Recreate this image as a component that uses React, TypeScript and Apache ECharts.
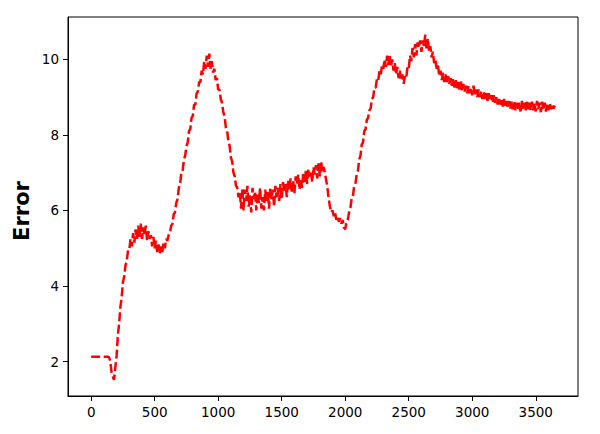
import React, { useEffect, useRef } from "react";
import * as echarts from "echarts";

// sample spacing along the x axis (iterations)
const STEP = 10;

// error values, one every STEP iterations starting at 0
const errorValues: number[] = [
  // 0
  2.13, 2.13, 2.13, 2.13, 2.13, 2.13, 2.13, 2.13, 2.13, 2.13,
  // 100
  2.13, 2.13, 2.13, 2.13, 2.12, 2.02, 1.72, 1.6, 1.52, 1.85,
  // 200
  2.15, 2.7, 3.0, 3.45, 3.7, 4.1, 4.25, 4.55, 4.65, 4.95,
  // 300
  4.95, 5.25, 5.05, 5.4, 5.15, 5.5, 5.25, 5.6, 5.3, 5.65,
  // 400
  5.25, 5.55, 5.35, 5.6, 5.2, 5.45, 5.25, 5.35, 5.05, 5.3,
  // 500
  5.0, 5.2, 4.9, 5.1, 4.85, 5.05, 4.9, 5.15, 5.0, 5.25,
  // 600
  5.2, 5.35, 5.4, 5.6, 5.65, 5.9, 5.95, 6.2, 6.3, 6.6,
  // 700
  6.7, 7.0, 7.05, 7.35, 7.45, 7.7, 7.8, 8.1, 8.15, 8.45,
  // 800
  8.5, 8.8, 8.8, 9.1, 9.15, 9.4, 9.4, 9.7, 9.6, 9.95,
  // 900
  9.75, 10.1, 9.8, 10.15, 9.75, 9.95, 9.65, 9.75, 9.45, 9.5,
  // 1000
  9.2, 9.2, 8.95, 8.85, 8.6, 8.5, 8.2, 8.1, 7.85, 7.7,
  // 1100
  7.4, 7.3, 7.0, 6.9, 6.65, 6.6, 6.35, 6.5, 6.05, 6.6,
  // 1200
  6.0, 6.55, 6.25, 6.65, 6.1, 6.4, 5.95, 6.6, 6.3, 6.5,
  // 1300
  6.0, 6.45, 6.2, 6.6, 6.05, 6.35, 6.0, 6.55, 6.25, 6.5,
  // 1400
  6.05, 6.6, 6.3, 6.55, 6.1, 6.65, 6.35, 6.6, 6.25, 6.7,
  // 1500
  6.3, 6.75, 6.5, 6.7, 6.35, 6.8, 6.55, 6.85, 6.45, 6.8,
  // 1600
  6.45, 6.9, 6.7, 6.95, 6.55, 6.85, 6.6, 7.0, 6.75, 7.05,
  // 1700
  6.7, 7.1, 6.9, 7.05, 6.75, 7.15, 6.95, 7.2, 6.85, 7.25,
  // 1800
  6.9, 7.3, 7.0, 7.15, 7.0, 6.8, 6.6, 6.3, 6.1, 5.95,
  // 1900
  6.0, 5.85, 5.95, 5.75, 5.85, 5.7, 5.8, 5.65, 5.75, 5.55,
  // 2000
  5.5, 5.7, 5.75, 5.95, 6.05, 6.3, 6.35, 6.65, 6.7, 6.95,
  // 2100
  7.05, 7.35, 7.45, 7.75, 7.8, 8.1, 8.15, 8.4, 8.45, 8.65,
  // 2200
  8.7, 8.95, 9.0, 9.25, 9.25, 9.5, 9.45, 9.7, 9.6, 9.85,
  // 2300
  9.75, 10.0, 9.8, 10.1, 9.85, 10.1, 9.8, 10.0, 9.7, 9.9,
  // 2400
  9.6, 9.8, 9.5, 9.7, 9.45, 9.6, 9.35, 9.55, 9.5, 9.8,
  // 2500
  9.75, 10.1, 9.95, 10.3, 10.05, 10.4, 10.1, 10.45, 10.3, 10.5,
  // 2600
  10.2, 10.5, 10.35, 10.65, 10.25, 10.55, 10.2, 10.35, 10.05, 10.2,
  // 2700
  9.9, 10.0, 9.75, 9.85, 9.55, 9.7, 9.45, 9.65, 9.4, 9.6,
  // 2800
  9.35, 9.55, 9.35, 9.5, 9.3, 9.5, 9.25, 9.45, 9.2, 9.4,
  // 2900
  9.2, 9.45, 9.15, 9.35, 9.15, 9.3, 9.1, 9.3, 9.1, 9.25,
  // 3000
  9.05, 9.3, 9.05, 9.2, 9.0, 9.2, 9.0, 9.15, 8.95, 9.15,
  // 3100
  8.95, 9.1, 8.9, 9.1, 8.9, 9.05, 8.85, 9.05, 8.85, 9.0,
  // 3200
  8.8, 9.0, 8.8, 8.95, 8.75, 8.95, 8.75, 8.9, 8.7, 8.9,
  // 3300
  8.7, 8.88, 8.68, 8.9, 8.65, 8.85, 8.65, 8.85, 8.62, 8.9,
  // 3400
  8.65, 8.85, 8.65, 8.92, 8.68, 8.85, 8.65, 8.88, 8.65, 8.85,
  // 3500
  8.62, 8.9, 8.68, 8.85, 8.6, 8.88, 8.65, 8.85, 8.62, 8.82,
  // 3600
  8.65, 8.85, 8.68, 8.82, 8.7, 8.78,
];

const xTickValues = [0, 500, 1000, 1500, 2000, 2500, 3000, 3500];
const yTickValues = [2, 4, 6, 8, 10];
const yAxisTitle = "Error";

export default function App() {
  const ref = useRef<HTMLDivElement>(null);

  useEffect(() => {
    document.body.style.margin = "0";
    if (!ref.current) return;
    const chart = echarts.init(ref.current, undefined, { renderer: "svg" });
    const seriesData = errorValues.map((v, i) => [i * STEP, v]);
    const font = "DejaVu Sans";
    chart.setOption({
      animation: false,
      backgroundColor: "#ffffff",
      grid: {
        left: 68,
        right: 22,
        top: 17,
        bottom: 38,
        show: true,
        borderColor: "#000000",
        borderWidth: 1,
        backgroundColor: "transparent",
      },
      xAxis: {
        type: "value",
        min: -182.5,
        max: 3832.5,
        axisLine: { show: true, onZero: false, lineStyle: { color: "#000", width: 1 } },
        axisTick: {
          show: true,
          inside: false,
          length: 5,
          lineStyle: { color: "#000", width: 1 },
          customValues: xTickValues,
        },
        axisLabel: {
          show: true,
          customValues: xTickValues,
          formatter: (v: number) => String(v),
          color: "#000",
          fontFamily: font,
          fontSize: 13.5,
          margin: 9,
        },
        splitLine: { show: false },
      },
      yAxis: {
        type: "value",
        min: 1.09,
        max: 11.12,
        axisLine: { show: true, onZero: false, lineStyle: { color: "#000", width: 1 } },
        axisTick: {
          show: true,
          inside: false,
          length: 5,
          lineStyle: { color: "#000", width: 1 },
          customValues: yTickValues,
        },
        axisLabel: {
          show: true,
          customValues: yTickValues,
          formatter: (v: number) => String(v),
          color: "#000",
          fontFamily: font,
          fontSize: 13.5,
          margin: 9,
        },
        splitLine: { show: false },
      },
      graphic: [
        {
          type: "text",
          x: 22,
          y: 211,
          rotation: Math.PI / 2,
          style: {
            text: yAxisTitle,
            fill: "#000",
            font: `bold 21px "${font}"`,
            textAlign: "center",
            textVerticalAlign: "middle",
          },
        },
      ],
      series: [
        {
          type: "line",
          data: seriesData,
          showSymbol: false,
          symbol: "none",
          lineStyle: { color: "#ff0000", width: 2.5, type: [9, 3.5] },
        },
      ],
    });
    return () => chart.dispose();
  }, []);

  return <div ref={ref} style={{ width: 600, height: 434 }} />;
}
